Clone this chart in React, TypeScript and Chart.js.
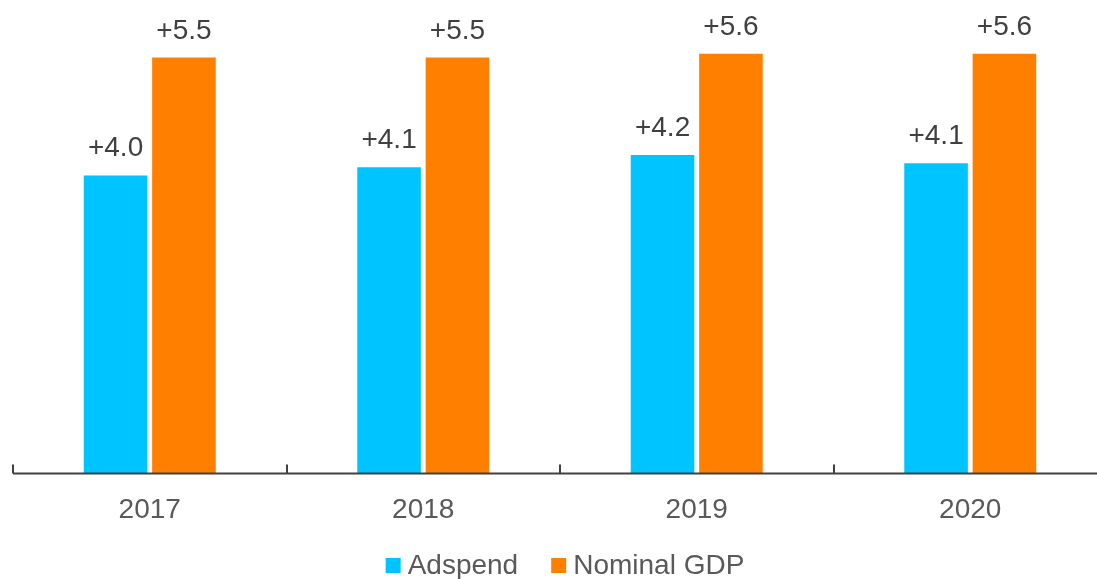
import React, { useEffect, useRef } from "react";
import { Chart, registerables } from "chart.js";

Chart.register(...registerables);

const categories = ["2017", "2018", "2019", "2020"];
const adspend = [3.97, 4.08, 4.24, 4.13];
const nominalGdp = [5.54, 5.54, 5.59, 5.59];
const seriesNames = ["Adspend", "Nominal GDP"];
const seriesColors = ["#00C4FF", "#FF8000"];

const FONT = "'Liberation Sans', Arial, sans-serif";

const overlayPlugin = {
  id: "overlay",
  afterDatasetsDraw(chart: any) {
    const { ctx, chartArea } = chart;
    const xScale = chart.scales.x;
    ctx.save();
    // axis line
    ctx.strokeStyle = "#404040";
    ctx.lineWidth = 2;
    ctx.beginPath();
    ctx.moveTo(chartArea.left, chartArea.bottom);
    ctx.lineTo(chartArea.right, chartArea.bottom);
    ctx.stroke();
    // tick marks at category boundaries, pointing up
    const n = xScale.ticks.length;
    const step = (chartArea.right - chartArea.left) / n;
    ctx.lineWidth = 2;
    for (let i = 0; i <= n; i++) {
      const x = Math.round(chartArea.left + i * step);
      ctx.beginPath();
      ctx.moveTo(x, chartArea.bottom);
      ctx.lineTo(x, chartArea.bottom - 9);
      ctx.stroke();
    }
    // data labels
    ctx.fillStyle = "#404040";
    ctx.font = `28px ${FONT}`;
    ctx.textAlign = "center";
    ctx.textBaseline = "alphabetic";
    chart.data.datasets.forEach((ds: any, di: number) => {
      const meta = chart.getDatasetMeta(di);
      meta.data.forEach((bar: any, i: number) => {
        const v = ds.data[i] as number;
        ctx.fillText("+" + v.toFixed(1), bar.x, bar.y - 19);
      });
    });
    // legend
    ctx.font = `28px ${FONT}`;
    ctx.textAlign = "left";
    const box = 15;
    const gap = 7;
    const itemGap = 33;
    const widths = seriesNames.map((s) => ctx.measureText(s).width);
    const total = widths.reduce((a, w) => a + box + gap + w, 0) + itemGap * (seriesNames.length - 1);
    let x = (chartArea.left + chartArea.right) / 2 - total / 2 + 5;
    const baseY = 574;
    seriesNames.forEach((s, i) => {
      ctx.fillStyle = seriesColors[i];
      ctx.fillRect(x, baseY - 16, box, box);
      x += box + gap;
      ctx.fillStyle = "#595959";
      ctx.fillText(s, x, baseY);
      x += widths[i] + itemGap;
    });
    ctx.restore();
  },
};

export default function App() {
  const ref = useRef<HTMLCanvasElement | null>(null);
  useEffect(() => {
    if (!ref.current) return;
    const chart = new Chart(ref.current, {
      type: "bar",
      data: {
        labels: categories,
        datasets: [
          {
            label: seriesNames[0],
            data: adspend,
            backgroundColor: seriesColors[0],
            borderWidth: 0,
          },
          {
            label: seriesNames[1],
            data: nominalGdp,
            backgroundColor: seriesColors[1],
            borderWidth: 0,
          },
        ],
      },
      options: {
        responsive: false,
        animation: false,
        layout: { padding: { left: 13, right: 13, top: 23, bottom: 32 } },
        datasets: {
          bar: { categoryPercentage: 0.5, barPercentage: 0.93 },
        },
        plugins: {
          legend: { display: false },
          tooltip: { enabled: false },
        },
        scales: {
          x: {
            grid: { display: false, drawTicks: false },
            border: { display: false },
            ticks: {
              color: "#595959",
              font: { family: FONT, size: 28 },
              padding: 20,
            },
          },
          y: {
            display: false,
            min: 0,
            max: 6,
          },
        },
      },
      plugins: [overlayPlugin],
    });
    return () => chart.destroy();
  }, []);
  return (
    <div
      style={{
        position: "absolute",
        left: 0,
        top: 0,
        width: 1097,
        height: 579,
        overflow: "hidden",
        background: "#fff",
      }}
    >
      <canvas ref={ref} width={1120} height={579} style={{ display: "block" }} />
    </div>
  );
}
